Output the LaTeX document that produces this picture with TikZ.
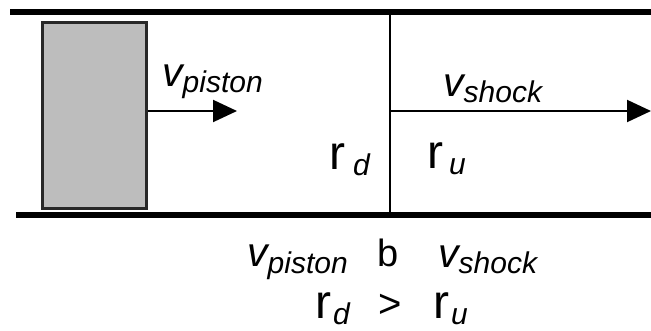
\documentclass[tikz,border=0pt]{standalone}
\usepackage{fontspec}
\setmainfont{Liberation Sans}
\usetikzlibrary{arrows.meta}
\newcommand{\bigv}{{\fontsize{41}{41}\selectfont\itshape v}}
\newcommand{\subtx}[1]{\raisebox{-6pt}{\fontsize{30}{30}\selectfont\itshape #1}}
\newcommand{\rr}{{\fontsize{48}{48}\selectfont r}}
\begin{document}
\begin{tikzpicture}[x=1pt,y=-1pt,
  wall/.style={line width=6pt},
  lbl/.style={inner sep=0pt, anchor=base west},
  arr/.style={line width=2pt,-{Triangle[length=24pt,width=22pt]}},
]
\useasboundingbox (0,0) rectangle (651,331);
% walls
\coordinate (tw1) at (10,12);
\coordinate (tw2) at (651,12);
\coordinate (bw1) at (16,215);
\coordinate (bw2) at (651,215);
\draw[wall] (tw1) -- (tw2);
\draw[wall] (bw1) -- (bw2);
% piston
\node[draw={rgb,255:red,40;green,40;blue,40}, line width=3pt, fill={rgb,255:red,189;green,189;blue,189},
  minimum width=104pt, minimum height=186pt, inner sep=0pt, anchor=north west]
  (piston) at (40.5,21.5) {};
\coordinate (pa) at (237,111);
\draw[arr] (piston.east |- pa) -- (pa);
% shock
\coordinate (sh1) at (390,14);
\coordinate (sh2) at (390,213);
\draw[line width=1.3pt] (sh1) -- (sh2);
\coordinate (sa0) at (390,111);
\coordinate (sa) at (651,111);
\draw[arr] (sa0) -- (sa);
% labels
\node[lbl] (vp) at (162,87) {\bigv\subtx{piston}};
\node[lbl] (vs) at (443,97) {\bigv\subtx{shock}};
\node[lbl] (rd) at (329,170) {\rr\hspace{8pt}\subtx{d}};
\node[lbl] (ru) at (427,169) {\rr\hspace{6pt}\subtx{u}};
% bottom relations
\node[lbl] (bvp) at (247,267) {\bigv\subtx{piston}};
\node[lbl] (bb) at (377,267) {\fontsize{38}{38}\selectfont b};
\node[lbl] (bvs) at (438,268) {\bigv\subtx{shock}};
\node[lbl] (brd) at (315,318) {\rr\hspace{2pt}\subtx{d}};
\node[lbl] (bgt) at (378,317) {\fontsize{40}{40}\selectfont >};
\node[lbl] (bru) at (433,318) {\rr\hspace{2pt}\subtx{u}};
\end{tikzpicture}
\end{document}
